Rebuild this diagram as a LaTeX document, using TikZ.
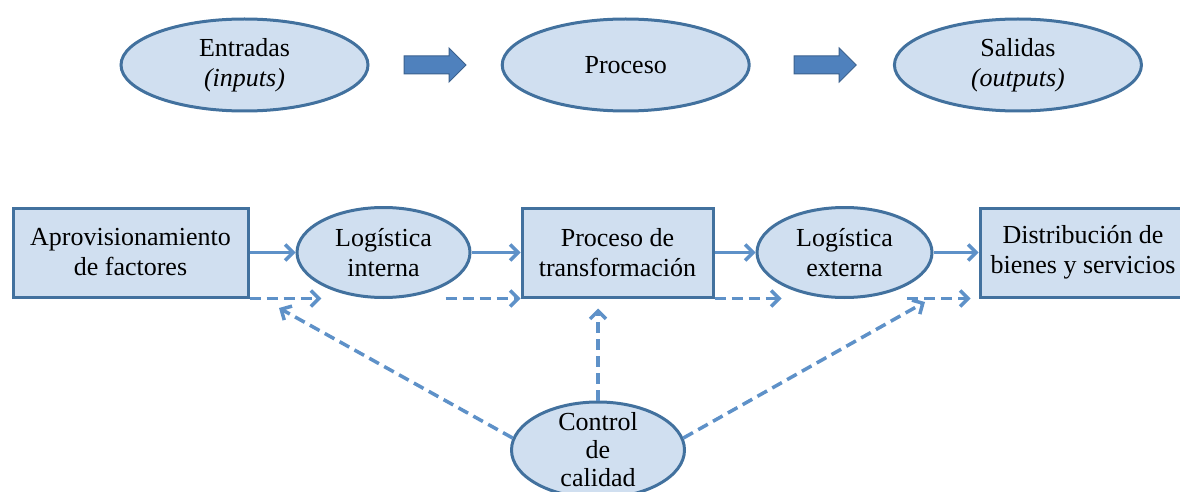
\documentclass[tikz,border=0pt]{standalone}
\usepackage{fontspec}
\setmainfont{Liberation Serif}
\usepackage{xcolor}
\usetikzlibrary{positioning,arrows.meta,shapes.geometric,shapes.arrows}
\definecolor{cajafill}{RGB}{208,223,240}
\definecolor{cajaline}{RGB}{66,113,158}
\definecolor{flecha}{RGB}{94,145,200}
\definecolor{bloque}{RGB}{79,129,189}

\begin{document}
\begin{tikzpicture}[
  x=1pt, y=-1pt,
  every node/.style={font=\fontsize{26}{30}\selectfont},
  caja/.style={draw=cajaline, fill=cajafill, line width=3pt, align=center, minimum height=89pt, inner sep=2pt},
  elip/.style={caja, ellipse, inner sep=0pt, minimum height=92pt},
  bigarr/.style={single arrow, draw=bloque!75!black, fill=bloque, line width=1pt, single arrow head extend=8pt, single arrow head indent=0pt, minimum height=62pt, inner xsep=0pt, inner ysep=8.5pt},
  arr/.style={flecha, line width=3.5pt, -{Straight Barb[length=8pt,width=16pt]}},
  darr/.style={arr, dash pattern=on 11pt off 6pt}
]
\useasboundingbox (0,0) rectangle (1180,492);

% sistema: entradas, proceso, salidas
\node[elip, minimum width=247pt] (ent) at (244.5,65) {Entradas\\\textit{(inputs)}};
\node[bigarr, right=34pt of ent] (fl1) {};
\node[elip, minimum width=247pt, right=34pt of fl1] (proc) {Proceso};
\node[bigarr, right=43pt of proc] (fl2) {};
\node[elip, minimum width=247pt, right=36pt of fl2] (sal) {Salidas\\\textit{(outputs)}};

% cadena de actividades
\node[caja, minimum width=235pt] (aprov) at (130.5,252.5) {Aprovisionamiento\\de factores};
\node[elip, minimum width=173pt, minimum height=90pt, right=46pt of aprov] (intl) {Logística\\interna};
\node[caja, minimum width=191pt, right=49pt of intl] (transf) {Proceso de\\transformación};
\node[elip, minimum width=175pt, minimum height=90pt, right=41pt of transf] (extl) {Logística\\externa};
\node[caja, minimum width=206pt, right=45pt of extl] (dist) {Distribución de\\bienes y servicios};
\node[elip, minimum width=173pt, minimum height=96pt, inner ysep=-10pt, font=\fontsize{26}{28}\selectfont] (ctrl) at (598,450) {Control\\de\\calidad};

\coordinate (q1) at (279,308);
\coordinate (q2) at (925,302);

\draw[arr] (aprov) -- (intl);
\draw[arr] (intl) -- (transf);
\draw[arr] (transf) -- (extl);
\draw[arr] (extl) -- (dist);

\draw[darr] (aprov.south east) -- (aprov.south east -| intl.south west);
\draw[darr] (intl.south east |- transf.south west) -- (transf.south west);
\draw[darr] (transf.south east) -- (transf.south east -| extl.south west);
\draw[darr, shorten >=8pt] (extl.south east |- dist.south west) -- (dist.south west);

\draw[darr] (ctrl.172) -- (q1);
\draw[darr] (ctrl.8) -- (q2);
\draw[darr, shorten >=10pt] (ctrl.north) -- (ctrl.north |- transf.south);
\end{tikzpicture}
\end{document}
